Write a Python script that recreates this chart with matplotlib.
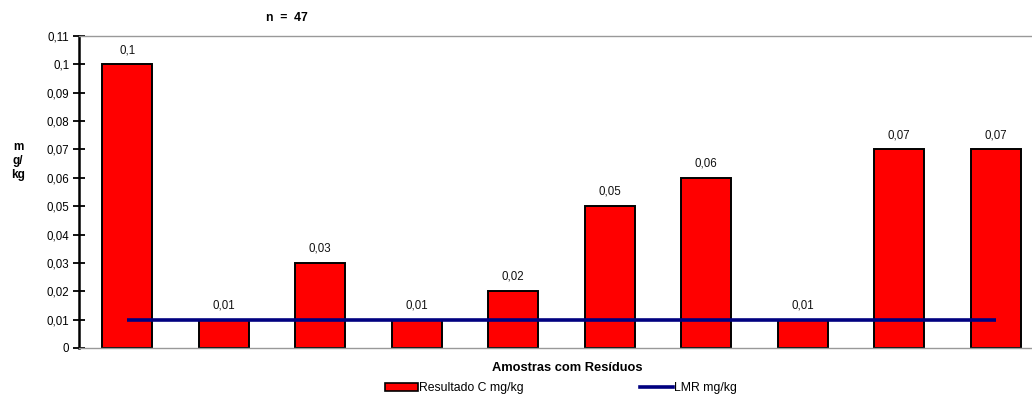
import matplotlib
matplotlib.use("Agg")
import matplotlib.pyplot as plt
from matplotlib.patches import Patch
from matplotlib.lines import Line2D

plt.rcParams['font.family'] = ['Liberation Sans', 'DejaVu Sans']

# Residue results per sample (mg/kg) and the maximum residue limit
samples = list(range(1, 11))
resultado = [0.10, 0.01, 0.03, 0.01, 0.02, 0.05, 0.06, 0.01, 0.07, 0.07]
bar_labels = ["0,1", "0,01", "0,03", "0,01", "0,02", "0,05", "0,06", "0,01", "0,07", "0,07"]
lmr = [0.01] * 10
y_ticks = [0, 0.01, 0.02, 0.03, 0.04, 0.05, 0.06, 0.07, 0.08, 0.09, 0.10, 0.11]
y_tick_labels = ["0", "0,01", "0,02", "0,03", "0,04", "0,05", "0,06", "0,07",
                 "0,08", "0,09", "0,1", "0,11"]

W, H = 1032, 398
fig = plt.figure(figsize=(W / 100, H / 100), dpi=100)
ax = fig.add_axes([79 / W, 50 / H, 965 / W, 312 / H])

x = list(range(len(samples)))
ax.bar(x, resultado, width=0.52, color="#ff0000", edgecolor="black", linewidth=1.4, zorder=2)
ax.plot(x, lmr, color="#000080", linewidth=2.6, solid_capstyle="butt", zorder=3)

for xi, v, lab in zip(x, resultado, bar_labels):
    ax.annotate(lab, (xi, v), xytext=(0, 6), textcoords="offset points",
                ha="center", va="bottom", fontsize=8.3, color="#111111")

ax.set_xlim(-0.5, len(samples) - 0.5)
ax.set_ylim(0, 0.11)
ax.set_xticks([])
ax.set_yticks(y_ticks)
ax.set_yticklabels(y_tick_labels, fontsize=8.3)
ax.tick_params(axis="y", direction="inout", length=8, width=1.3, pad=3)

ax.spines["right"].set_visible(False)
ax.spines["left"].set_linewidth(1.8)
ax.spines["left"].set_color("black")
for s in ("top", "bottom"):
    ax.spines[s].set_color("#999999")
    ax.spines[s].set_linewidth(1.0)

fig.text(287 / W, 1 - 18 / H, "n  =  47", ha="center", va="center",
         fontsize=8.8, fontweight="bold")
fig.text(18 / W, 1 - 161 / H, "m\ng/\nkg", ha="center", va="center",
         fontsize=8.5, fontweight="bold", linespacing=1.25)
fig.text(567 / W, 1 - 368 / H, "Amostras com Resíduos", ha="center", va="center",
         fontsize=9.3, fontweight="bold")

handles = [
    Patch(facecolor="#ff0000", edgecolor="black", linewidth=1.2),
    Line2D([0], [0], color="#000080", linewidth=2.6),
]
fig.legend(handles, ["Resultado C mg/kg", "LMR mg/kg"], loc="center",
           bbox_to_anchor=(561 / W, 1 - 388 / H), ncol=2, frameon=False,
           fontsize=8.8, handlelength=2.7, handleheight=0.65, handletextpad=0.1,
           columnspacing=9.5)

fig.savefig("out.png", dpi=100)
